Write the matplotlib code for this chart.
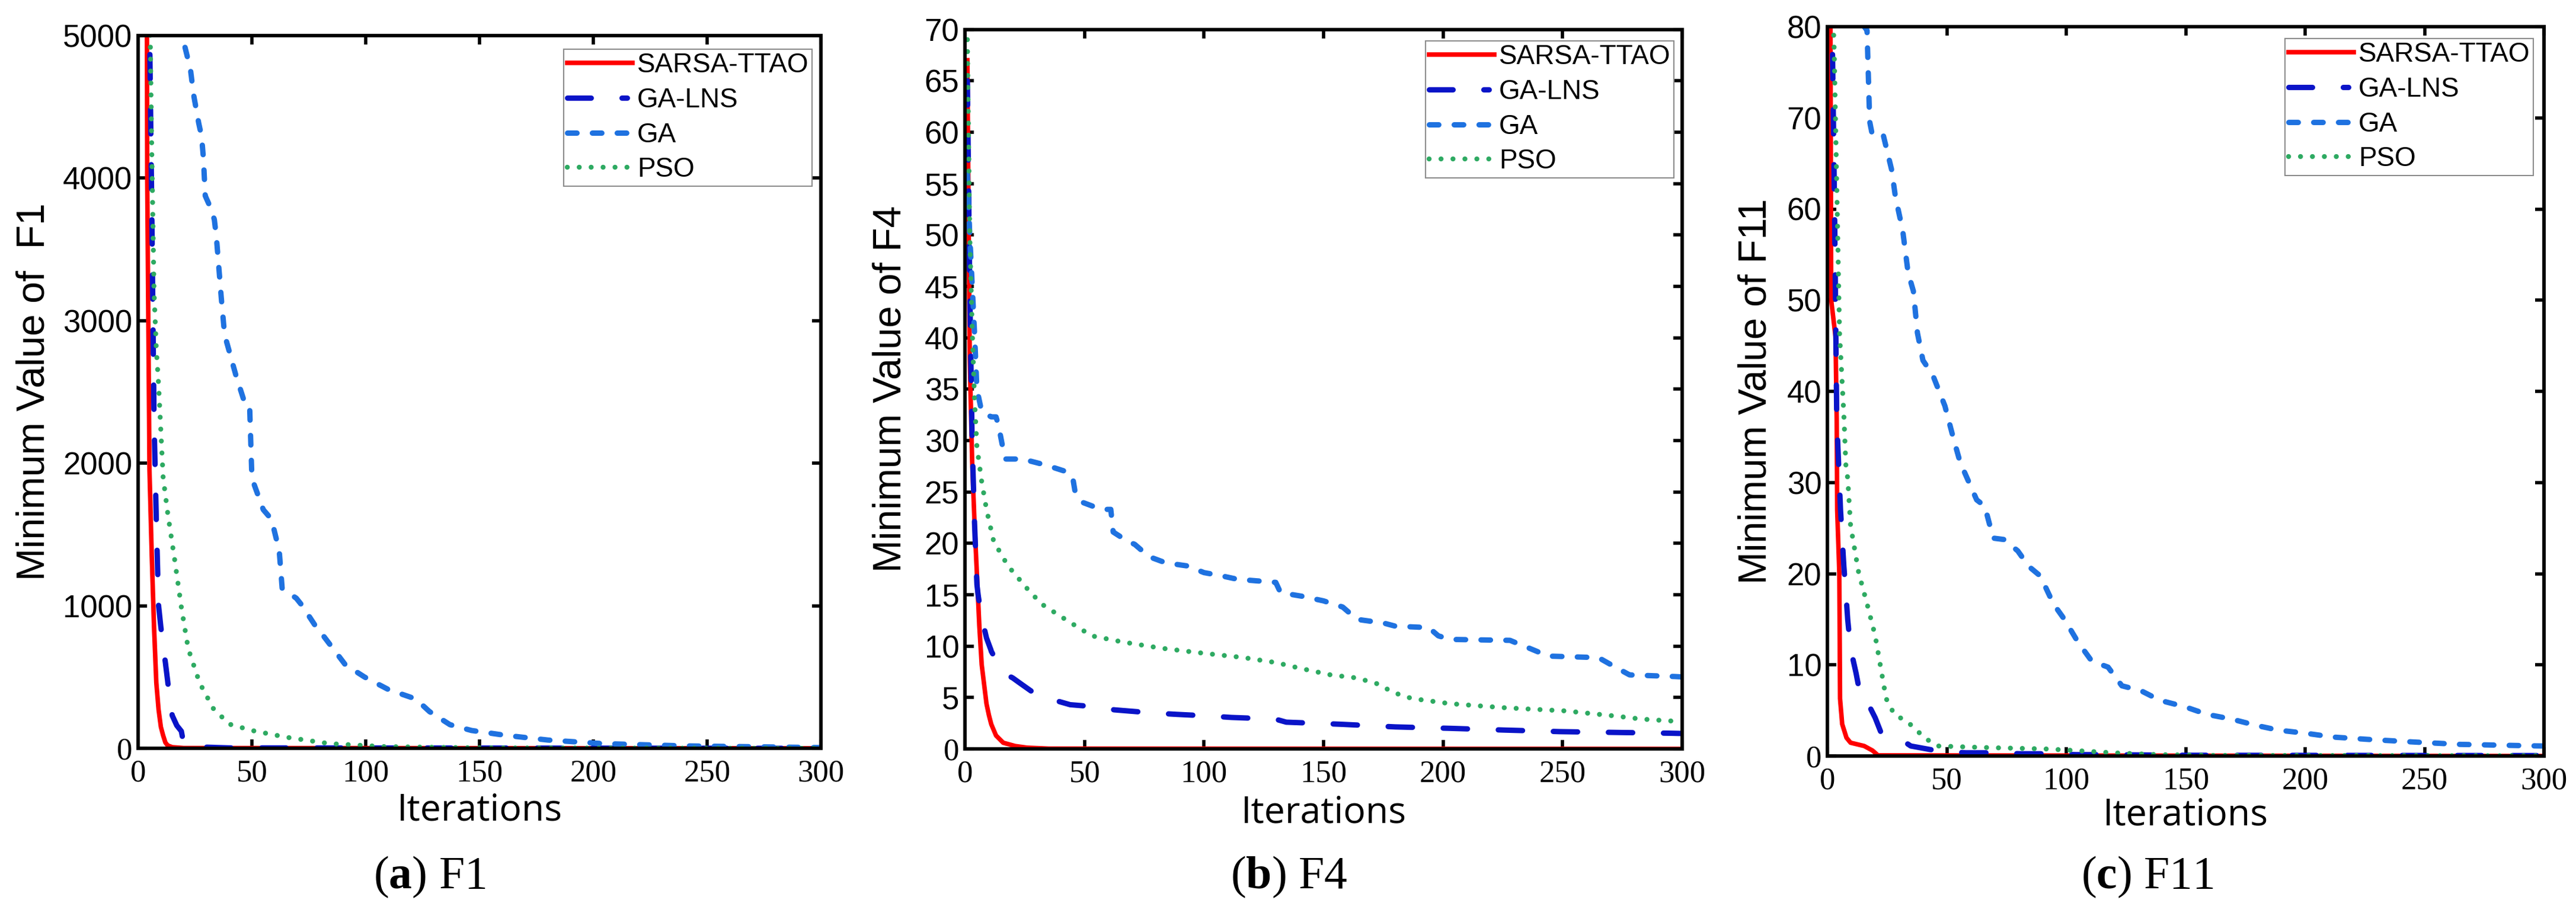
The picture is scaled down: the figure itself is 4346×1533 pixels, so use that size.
import matplotlib

matplotlib.use("Agg")

import matplotlib.pyplot as plt
from matplotlib.lines import Line2D

plt.rcParams["lines.scale_dashes"] = False
plt.rcParams["mathtext.fontset"] = "custom"
plt.rcParams["mathtext.rm"] = "Liberation Serif"
plt.rcParams["mathtext.bf"] = "Liberation Serif:bold"

# ---------- data ----------
methods = ["SARSA-TTAO", "GA-LNS", "GA", "PSO"]

# F1
sarsa_f1_x = [1, 3, 4, 5, 6, 7, 8, 9, 10, 11, 12, 13, 15, 20, 300]
sarsa_f1_y = [30000, 12000, 4000, 1950, 1350, 850, 460, 270, 150, 90, 40, 20, 8, 2, 0]
galns_f1_x = [1, 4, 5, 6, 7, 8, 9, 10, 11, 12, 13, 14, 15, 17, 19, 20, 27, 30, 40, 300]
galns_f1_y = [30000, 7000, 5100, 3800, 2300, 1600, 1000, 850, 720, 600, 470, 330, 230,
              160, 120, 35, 28, 8, 3, 0]
ga_f1_x = [1, 10, 17, 18, 20.5, 23, 24.4, 26.6, 27.9, 28.7, 29.5, 31.8, 33.5, 34.4, 36.5,
           38, 43, 47, 49, 50, 55, 58.6, 62, 63.3, 69.5, 71.8, 79, 81.5, 91, 99.5, 110, 122,
           128, 137, 146.5, 161, 180, 204, 240, 300]
ga_f1_y = [12000, 7000, 5150, 4990, 4925, 4763, 4584, 4388, 4292, 4138, 3876, 3793, 3709,
           3585, 3168, 2902, 2615, 2415, 2400, 1894, 1674, 1607, 1386, 1120, 1053, 1007, 832,
           787, 587, 500, 412, 346, 258, 166, 125, 92, 58, 33, 17, 5]
pso_f1_x = [1, 5, 6, 7, 8, 9, 11, 13, 16, 19, 22, 27, 33, 40, 50, 65, 84, 108, 150, 300]
pso_f1_y = [20000, 5400, 4200, 3200, 2800, 2550, 1900, 1650, 1330, 990, 700, 460, 280, 170,
            125, 78, 33, 12, 3, 0]

# F4
sarsa_f4_x = [1, 2, 3, 4, 5, 6, 7, 8, 9, 10, 11, 13, 16, 21, 26, 35, 300]
sarsa_f4_y = [67, 38, 28, 22, 17, 12.0, 8.2, 6.3, 4.4, 3.3, 2.4, 1.3, 0.6, 0.28, 0.12, 0.03, 0]
galns_f4_x = [1, 2, 3, 4, 5, 5.5, 7, 8, 9, 10.9, 11, 16, 20, 23.6, 31.5, 38, 44, 54.5, 62.5,
              78.3, 88.6, 102.3, 111.5, 129.8, 134.4, 157, 180, 203, 226, 248.8, 294, 300]
galns_f4_y = [65, 45, 30, 22, 16, 15, 12.6, 11.8, 10.8, 9.6, 9.5, 7.4, 6.9, 6.3, 5.0, 4.7,
              4.3, 4.1, 3.8, 3.5, 3.36, 3.2, 3.06, 2.9, 2.6, 2.4, 2.14, 2.0, 1.83, 1.68,
              1.53, 1.5]
ga_f4_x = [1, 2, 4, 5, 7, 11, 13, 14, 16, 17, 24, 34, 42, 45, 46, 49, 57, 61, 62, 68, 71, 77,
           84, 93, 100, 107, 114, 130, 132, 141, 150, 158, 164, 175, 180, 194, 198, 203, 228,
           236, 244, 265, 272, 278, 297, 300]
ga_f4_y = [56, 50, 40.5, 35, 32.8, 32.3, 32.3, 31.5, 29.1, 28.2, 28.2, 27.6, 27.0, 26.5, 25.1,
           24.0, 23.3, 23.3, 21.1, 20.2, 19.9, 18.7, 18.1, 17.8, 17.15, 16.85, 16.5, 16.2,
           15.2, 14.85, 14.4, 13.8, 12.6, 12.25, 11.94, 11.8, 11.0, 10.65, 10.56, 9.8, 9.03,
           8.88, 7.96, 7.2, 7.04, 7.0]
pso_f4_x = [1, 2, 3, 4, 5, 7, 9, 12, 18, 26, 32, 42, 53, 66, 82, 100, 116, 130, 141, 153, 164,
            173, 179, 187, 203, 226, 251, 272, 283, 300]
pso_f4_y = [69, 50, 41, 34, 29.4, 26, 23.3, 20.2, 17.8, 15.6, 14.1, 12.6, 11.0, 10.4, 9.8,
            9.3, 8.9, 8.4, 7.8, 7.2, 6.9, 6.3, 5.5, 4.9, 4.4, 4.0, 3.7, 3.2, 2.9, 2.65]

# F11
sarsa_f11_x = [1, 1.6, 3.4, 3.9, 4.1, 5.0, 5.3, 6.2, 8, 9.7, 15.4, 18.9, 21.2, 300]
sarsa_f11_y = [110, 50, 46, 37, 27, 20, 6.3, 3.5, 2.0, 1.46, 1.1, 0.6, 0.07, 0]
galns_f11_x = [1, 2, 3, 3.9, 4.4, 5.5, 6.9, 7.8, 8.5, 9.7, 12, 13.8, 15.4, 20, 22.3, 26.9,
               34.9, 45.3, 57.9, 68.2, 80.8, 91.2, 104, 115, 150, 300]
galns_f11_y = [110, 80, 60, 37.4, 33.9, 27, 20.8, 17.7, 15, 11.8, 9.1, 6.64, 6.6, 4.2, 2.67,
               2.5, 1.1, 0.6, 0.35, 0.35, 0.25, 0.25, 0.15, 0.15, 0.08, 0.05]
ga_f11_x = [1, 10, 15.4, 16.6, 17.7, 18.9, 23.5, 26.9, 28.5, 31.5, 33.8, 36, 37.7, 40, 44.1,
            49.2, 52.8, 55.6, 62.5, 65.9, 69.4, 73.9, 79.7, 84.3, 88.9, 91.2, 94.6, 99.2,
            104.9, 110.7, 117.5, 123.3, 131.3, 139.3, 149.7, 158.9, 169.2, 179.5, 188.7,
            200.2, 211.6, 227.7, 246, 264.4, 296.6, 300]
ga_f11_y = [120, 92, 80, 79.6, 69.6, 68, 68, 64.3, 61.3, 57.7, 53, 51, 46.4, 43.4, 41.8, 38.4,
            34.8, 32.2, 28.1, 27.4, 23.9, 23.75, 22.5, 20.8, 19.8, 18.6, 16.7, 15, 12.5, 10.4,
            9.75, 7.7, 7.16, 6.1, 5.4, 4.57, 4.05, 3.36, 2.84, 2.5, 2.08, 1.8, 1.53, 1.28,
            1.11, 1.1]
pso_f11_x = [1, 2.8, 3.9, 5.1, 6.9, 7.8, 8.5, 9.7, 13.1, 16.6, 20, 22.3, 24.6, 28, 33.8, 37.2,
             41.8, 46.4, 64.8, 92.3, 103.8, 119.8, 138.2, 161, 300]
pso_f11_y = [90, 78, 62.9, 46.4, 37.4, 31.5, 30.5, 25.3, 20.1, 16.7, 13.2, 9.75, 6.3, 4.57,
             3.7, 2.84, 1.8, 1.1, 0.94, 0.77, 0.6, 0.35, 0.15, 0.07, 0.03]

x_ticks = [0, 50, 100, 150, 200, 250, 300]
f1_ticks = [0, 1000, 2000, 3000, 4000, 5000]
f4_ticks = list(range(0, 71, 5))
f11_ticks = list(range(0, 81, 10))

# ---------- styles ----------
W, H = 4346, 1533
DPI = 100

colors = ["#ff0000", "#0a14c8", "#1f72e0", "#2eaa62"]
lw = [5.5, 6.5, 6.5, 6.0]
# dash patterns in points (scale_dashes off), round caps add the line width
plot_dashes = [None, (29.5, 37.4), (11.5, 18.7), (0.1, 14.4)]
legend_dashes = [None, (28.8, 37.4, 6.5, 37.4), (11.5, 18.7), (0.1, 14.4)]

panels = [
    dict(box=(233, 60, 1385, 1262), ticks=f1_ticks, ylabel="Minimum Value of  F1",
         ylab_x=58, xlab_base=1383, leg=(1370, 83), cap_x=725, tag="a", fn="F1",
         data=[(sarsa_f1_x, sarsa_f1_y), (galns_f1_x, galns_f1_y),
               (ga_f1_x, ga_f1_y), (pso_f1_x, pso_f1_y)]),
    dict(box=(1628, 49.5, 2838, 1263), ticks=f4_ticks, ylabel="Minimum Value of F4",
         ylab_x=1503, xlab_base=1388, leg=(2824, 69), cap_x=2175, tag="b", fn="F4",
         data=[(sarsa_f4_x, sarsa_f4_y), (galns_f4_x, galns_f4_y),
               (ga_f4_x, ga_f4_y), (pso_f4_x, pso_f4_y)]),
    dict(box=(3083, 45, 4292, 1275), ticks=f11_ticks, ylabel="Minimum Value of F11",
         ylab_x=2962, xlab_base=1391, leg=(4274, 65), cap_x=3623, tag="c", fn="F11",
         data=[(sarsa_f11_x, sarsa_f11_y), (galns_f11_x, galns_f11_y),
               (ga_f11_x, ga_f11_y), (pso_f11_x, pso_f11_y)]),
]

fig = plt.figure(figsize=(W / DPI, H / DPI), dpi=DPI)

for p in panels:
    x0, y0, x1, y1 = p["box"]
    ax = fig.add_axes([x0 / W, 1 - y1 / H, (x1 - x0) / W, (y1 - y0) / H])

    for (xs, ys), c, w, d in zip(p["data"], colors, lw, plot_dashes):
        (line,) = ax.plot(xs, ys, color=c, linewidth=w)
        if d is not None:
            line.set_dashes(d)
            line.set_dash_capstyle("round")

    ax.set_xlim(0, 300)
    ax.set_ylim(0, p["ticks"][-1])
    ax.set_xticks(x_ticks, labels=[str(t) for t in x_ticks])
    ax.set_yticks(p["ticks"], labels=[str(t) for t in p["ticks"]])
    for lab in ax.get_xticklabels():
        lab.set_fontfamily("Liberation Serif")
        lab.set_fontsize(38)
    for lab in ax.get_yticklabels():
        lab.set_fontsize(38)
        # the zero label is set in a serif face in the original
        lab.set_fontfamily("Liberation Serif" if lab.get_text() == "0" else "Liberation Sans")

    ax.tick_params(direction="in", length=11, width=4, top=True, right=True)
    ax.tick_params(axis="x", pad=13)
    ax.tick_params(axis="y", pad=7)
    for s in ax.spines.values():
        s.set_linewidth(4.2)

    # axis titles
    ax.set_xlabel("Iterations", fontsize=45, family="Open Sans", va="baseline")
    ax.xaxis.set_label_coords(0.5, (y1 - p["xlab_base"]) / (y1 - y0))
    ax.set_ylabel(p["ylabel"], fontsize=47.5, family="Liberation Sans", va="center")
    ax.yaxis.set_label_coords((p["ylab_x"] - x0) / (x1 - x0), 0.5)

    # legend with proxy handles (GA-LNS shows dash-dot in the key)
    handles = []
    for c, w, d in zip(colors, lw, legend_dashes):
        h = Line2D([], [], color=c, linewidth=w)
        if d is not None:
            h.set_dashes(d)
            h.set_dash_capstyle("round")
        handles.append(h)
    lx, ly = p["leg"]
    leg = ax.legend(
        handles,
        methods,
        loc="upper right",
        bbox_to_anchor=((lx - x0) / (x1 - x0), (y1 - ly) / (y1 - y0)),
        borderaxespad=0,
        fancybox=False,
        framealpha=1,
        edgecolor="#8c8c8c",
        prop={"family": "Liberation Sans", "size": 33},
        handlelength=2.4,
        handletextpad=0.18,
        labelspacing=0.32,
        borderpad=0.12,
    )
    leg.get_frame().set_linewidth(1.5)

    # sub-figure caption
    fig.text(
        p["cap_x"] / W,
        (H - 1498) / H,
        r"($\mathbf{%s}$) %s" % (p["tag"], p["fn"]),
        fontsize=56,
        family="Liberation Serif",
        ha="center",
        va="baseline",
    )

fig.savefig("out.png", dpi=DPI, facecolor="white")
